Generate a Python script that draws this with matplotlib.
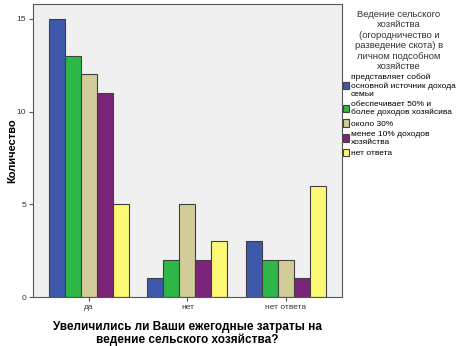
import numpy as np
import matplotlib
matplotlib.use("Agg")
import matplotlib.pyplot as plt

# categories on the x axis
categories = ["да", "нет", "нет ответа"]

# one series per legend entry
series_labels = [
    "представляет собой\nосновной источник дохода\nсемьи",
    "обеспечивает 50% и\nболее доходов хозяйсива",
    "около 30%",
    "менее 10% доходов\nхозяйства",
    "нет ответа",
]
main_income = [15, 1, 3]
half_income = [13, 2, 2]
about_30 = [12, 5, 2]
under_10 = [11, 2, 1]
no_answer = [5, 3, 6]

series_values = [main_income, half_income, about_30, under_10, no_answer]
colors = ["#3e58ac", "#2eb848", "#d2cc98", "#7b2479", "#fbf873"]

plt.rcParams["font.family"] = ["Liberation Sans", "DejaVu Sans"]

fig = plt.figure(figsize=(4.6, 3.46), dpi=100)
ax = fig.add_axes([0.0717, 0.1416, 0.6713, 0.8468])
ax.set_facecolor("#f0f0f0")

x = np.arange(len(categories))
w = 0.163
handles = []
for i, (vals, col, lab) in enumerate(zip(series_values, colors, series_labels)):
    b = ax.bar(x + (i - 2) * w, vals, width=w, color=col, edgecolor="#404040",
               linewidth=0.8, label=lab, zorder=2)
    handles.append(b)

ax.set_xlim(-0.57, 2.57)
ax.set_ylim(0, 15.8)
ax.set_xticks(x)
ax.set_xticklabels(categories, fontsize=6, color="#333333")
ax.set_yticks([0, 5, 10, 15])
ax.set_yticklabels(["0", "5", "10", "15"], fontsize=6, color="#333333")
ax.tick_params(length=3, width=0.8, color="#555555", pad=2)
for s in ax.spines.values():
    s.set_color("#555555")
    s.set_linewidth(0.8)

ax.set_ylabel("Количество", fontsize=8, fontweight="bold")
ax.yaxis.set_label_coords(-0.052, 0.5)
ax.set_xlabel("Увеличились ли Ваши ежегодные затраты на\nведение сельского хозяйства?",
              fontsize=8.5, fontweight="bold", labelpad=7, linespacing=1.05)

leg = ax.legend(handles=handles, loc="upper left", bbox_to_anchor=(0.997, 0.985),
                title="Ведение сельского\nхозяйства\n(огородничество и\nразведение скота) в\nличном подсобном\nхозяйстве",
                fontsize=6, title_fontsize=6.8, frameon=False, borderaxespad=0,
                handlelength=0.8, handleheight=1.0, handletextpad=0.2,
                labelspacing=0.35, borderpad=0.2)
leg.get_title().set_multialignment("center")
leg.get_title().set_color("#333333")

fig.savefig("out.png", dpi=100)
